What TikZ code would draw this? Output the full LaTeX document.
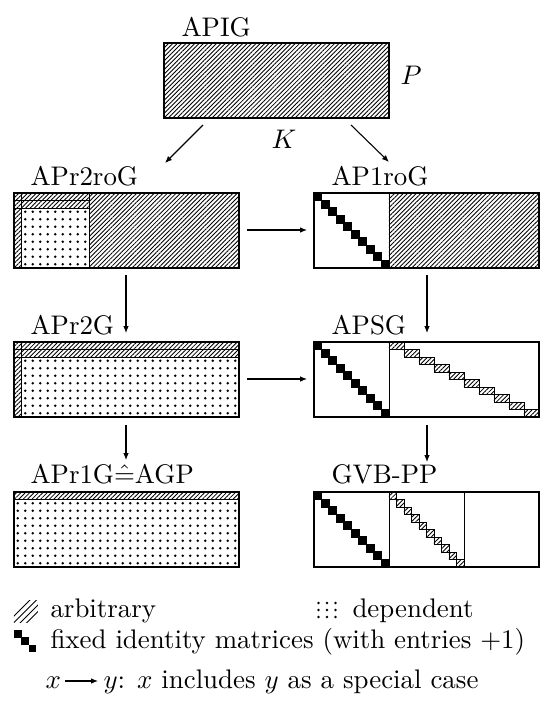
\documentclass[tikz,border=0pt]{standalone}
\usetikzlibrary{patterns.meta,arrows.meta}
\tikzset{
  box/.style={draw, line width=0.7pt},
  hatch/.style={pattern={Lines[angle=45,distance=1.15pt,line width=0.32pt]}},
  thinl/.style={line width=0.35pt},
  conn/.style={-{Latex[length=2.6pt,width=2.1pt]}, line width=0.4pt},
  lbl/.style={anchor=base west, inner sep=0pt},
}
\newcommand{\mydot}[2]{\fill (#1,#2) circle (0.48pt);}
\newcommand{\idsq}[2]{\fill (#1-0.6,#2-0.6) rectangle +(8.7,8.7);}
\begin{document}
\begin{tikzpicture}[x=0.372pt,y=-0.372pt]
\useasboundingbox (0,0) rectangle (540,706);

% ---------- APIG ----------
\path[hatch] (164,43) rectangle (389,118);
\draw[box] (164,43) rectangle (389,118);
\node[lbl] (lapig) at (181,36) {APIG};
\node[lbl] (lp) at (400,84) {$P$};
\node[lbl] (lk) at (271,148) {$K$};

% ---------- APr2roG ----------
\path[hatch] (14,193) rectangle (239,268);
\fill[white] (21.5,208) rectangle (89,268);
\foreach \i in {1,...,9}{\foreach \j in {2,...,9}{\mydot{14+7.5*\i+3.75}{193+7.5*\j+3.75}}}
\draw[thinl] (21.5,193) -- (21.5,268);
\draw[thinl] (89,193) -- (89,268);
\draw[thinl] (14,200.5) -- (89,200.5);
\draw[thinl] (14,208) -- (89,208);
\draw[box] (14,193) rectangle (239,268);
\node[lbl] (lr2ro) at (30,185) {APr2roG};

% ---------- AP1roG ----------
\path[hatch] (389,193) rectangle (539,268);
\draw[thinl] (389,193) -- (389,268);
\foreach \i in {0,...,9}{\idsq{314+7.5*\i}{193+7.5*\i}}
\draw[box] (314,193) rectangle (539,268);
\node[lbl] (l1ro) at (331,185) {AP1roG};

% ---------- APr2G ----------
\path[hatch] (14,342) rectangle (239,417);
\fill[white] (21.5,357) rectangle (239,417);
\foreach \i in {1,...,29}{\foreach \j in {2,...,9}{\mydot{14+7.5*\i+3.75}{342+7.5*\j+3.75}}}
\draw[thinl] (21.5,342) -- (21.5,417);
\draw[thinl] (14,349.5) -- (239,349.5);
\draw[thinl] (14,357) -- (239,357);
\draw[box] (14,342) rectangle (239,417);
\node[lbl] (lr2) at (30,334) {APr2G};

% ---------- APSG ----------
\draw[thinl] (389,342) -- (389,417);
\foreach \i in {0,...,9}{\idsq{314+7.5*\i}{342+7.5*\i}}
\foreach \i in {0,...,9}{\path[hatch,draw,thinl] (389+15*\i,342+7.5*\i) rectangle +(15,7.5);}
\draw[box] (314,342) rectangle (539,417);
\node[lbl] (lsg) at (331,334) {APSG};

% ---------- APr1G = AGP ----------
\path[hatch] (14,492) rectangle (239,499.5);
\foreach \i in {0,...,29}{\foreach \j in {1,...,9}{\mydot{14+7.5*\i+3.75}{492+7.5*\j+3.75}}}
\draw[thinl] (14,499.5) -- (239,499.5);
\draw[box] (14,492) rectangle (239,567);
\node[lbl] (lr1) at (30,483) {APr1G$\hat{=}$AGP};

% ---------- GVB-PP ----------
\draw[thinl] (389,492) -- (389,567);
\draw[thinl] (464,492) -- (464,567);
\foreach \i in {0,...,9}{\idsq{314+7.5*\i}{492+7.5*\i}}
\foreach \i in {0,...,9}{\path[hatch,draw,thinl] (389+7.5*\i,492+7.5*\i) rectangle +(7.5,7.5);}
\draw[box] (314,492) rectangle (539,567);
\node[lbl] (lgvb) at (331,483) {GVB-PP};

% ---------- connectors ----------
\coordinate (a1s) at (203,125); \coordinate (a1e) at (165,163);
\coordinate (a2s) at (351,125); \coordinate (a2e) at (389,162);
\coordinate (v1s) at (126,275); \coordinate (v1e) at (126,333);
\coordinate (v2s) at (126,425); \coordinate (v2e) at (126,460);
\coordinate (v3s) at (427,275); \coordinate (v3e) at (427,333);
\coordinate (v4s) at (427,425); \coordinate (v4e) at (427,462);
\coordinate (h1s) at (247,230); \coordinate (h1e) at (307,230);
\coordinate (h2s) at (247,379); \coordinate (h2e) at (307,379);
\draw[conn] (a1s) -- (a1e);
\draw[conn] (a2s) -- (a2e);
\draw[conn] (v1s) -- (v1e);
\draw[conn] (v2s) -- (v2e);
\draw[conn] (v3s) -- (v3e);
\draw[conn] (v4s) -- (v4e);
\draw[conn] (h1s) -- (h1e);
\draw[conn] (h2s) -- (h2e);

% ---------- legend ----------
\begin{scope}
\clip (14,600) rectangle (38,622);
\foreach \c in {0,6.5,13,19.5}{\draw[line width=0.38pt] (6+\c,624) -- ++(26,-26);}
\end{scope}
\node[lbl] (larb) at (50,617) {arbitrary};
\foreach \a in {318.5,327,335.5}{\foreach \b in {603,610,617}{\fill (\a,\b) circle (0.5pt);}}
\node[lbl] (ldep) at (352,617) {dependent};
\foreach \i in {0,1,2}{\fill (14+7.3*\i,630+7.3*\i) rectangle +(7.6,7.6);}
\node[lbl] (lfix) at (50,648) {fixed identity matrices (with entries $+1$)};
\node[lbl] (lx) at (45,688) {$x$};
\coordinate (lgs) at (65,681); \coordinate (lge) at (98,681);
\draw[conn] (lgs) -- (lge);
\node[lbl] (ly) at (103,688) {$y$: $x$ includes $y$ as a special case};
\end{tikzpicture}
\end{document}
